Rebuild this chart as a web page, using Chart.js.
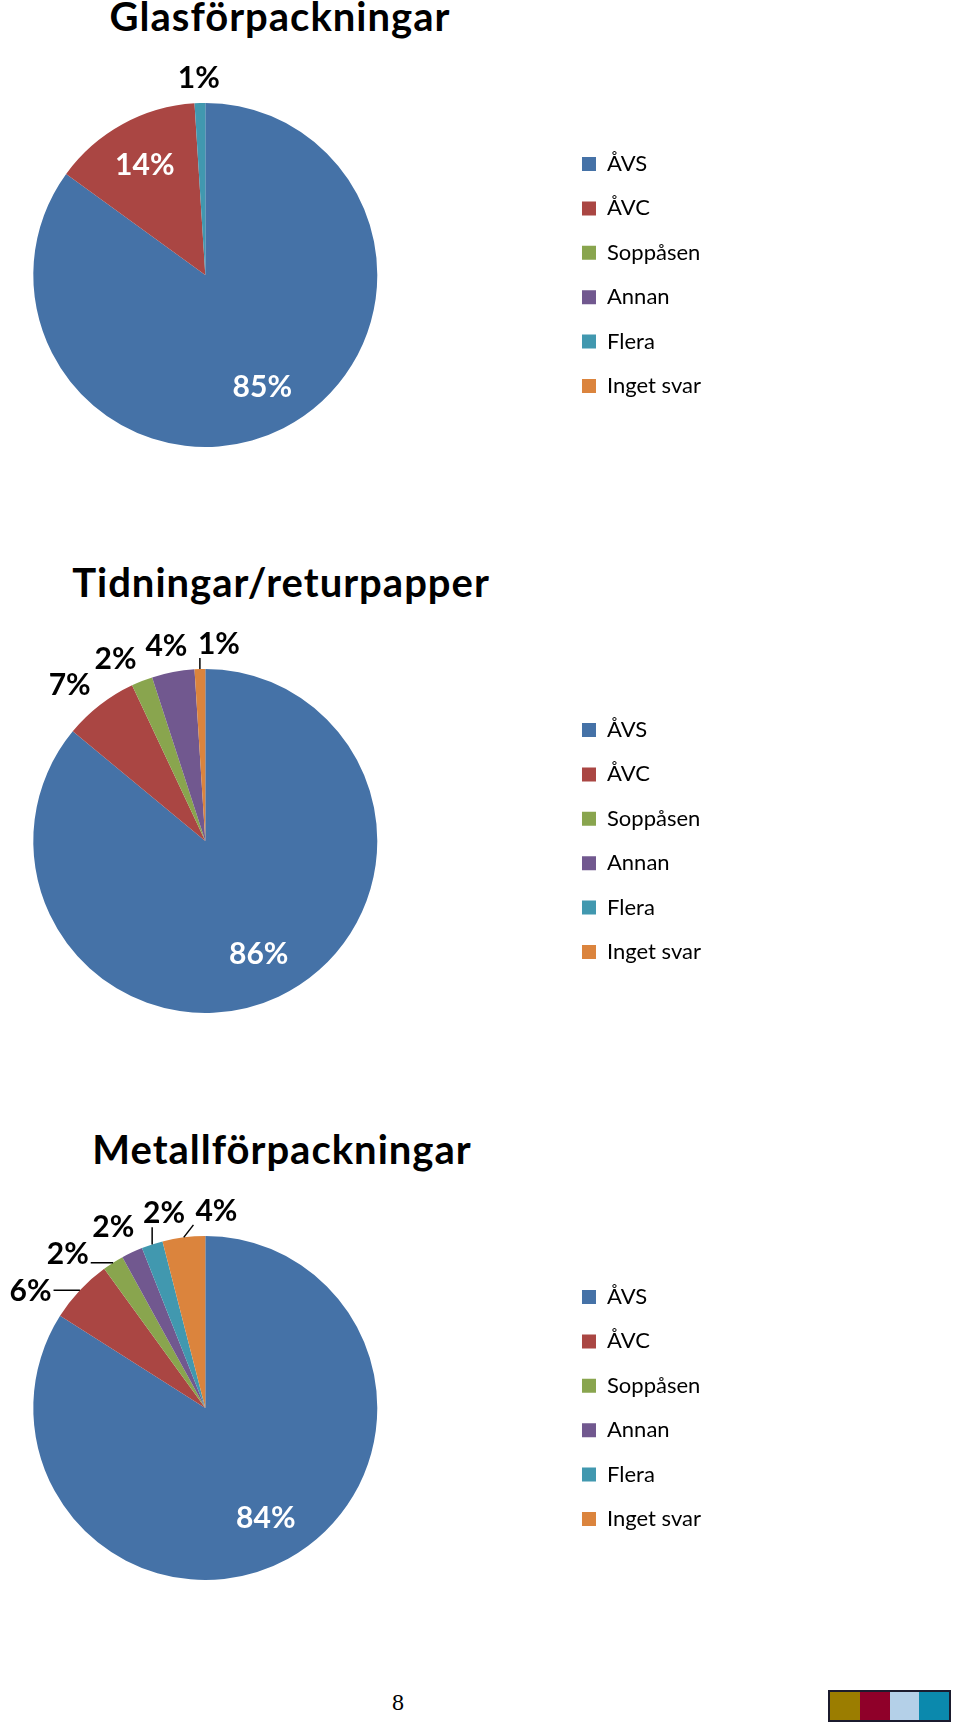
<!DOCTYPE html>
<html lang="sv">
<head>
  <meta charset="utf-8">
  <title>Sortering av förpackningar</title>
  <script src="https://cdn.jsdelivr.net/npm/chart.js"></script>
  <style>
    html, body { margin: 0; padding: 0; background: #fff; }
    body { position: relative; width: 960px; height: 1726px; overflow: hidden; font-family: Lato, sans-serif; }
    .box { position: absolute; }
    .title { position: absolute; transform: translateX(-50%); white-space: nowrap;
             font-weight: bold; font-size: 40px; line-height: 40px; letter-spacing: 1px; color: #000; }
    .pageno { position: absolute; left: 398px; top: 1690px; transform: translateX(-50%);
              font-family: "Liberation Serif", "Times New Roman", serif; font-size: 24px; line-height: 24px; }
    .swatch { position: absolute; left: 828px; top: 1690px; width: 119px; height: 28px;
              border: 2px solid #1b1b2e; display: flex; }
    .swatch div { flex: 1; }
  </style>
</head>
<body>

  <div class="title" style="left:280px;top:-4px">Glasförpackningar</div>
  <div class="box" style="left:-149px;top:23px;width:870px;height:504px"><canvas id="c0"></canvas></div>

  <div class="title" style="left:281px;top:562px">Tidningar/returpapper</div>
  <div class="box" style="left:-149px;top:589px;width:870px;height:504px"><canvas id="c1"></canvas></div>

  <div class="title" style="left:282px;top:1129px">Metallförpackningar</div>
  <div class="box" style="left:-149px;top:1156px;width:870px;height:504px"><canvas id="c2"></canvas></div>

  <div class="pageno">8</div>
  <div class="swatch">
    <div style="background:#9b7d00"></div>
    <div style="background:#8f0029"></div>
    <div style="background:#b4d0e8"></div>
    <div style="background:#0b89ad"></div>
  </div>

  <script>
    // svarsalternativ (samma i alla tre diagram)
    const categories = ['ÅVS', 'ÅVC', 'Soppåsen', 'Annan', 'Flera', 'Inget svar'];
    // andel i procent
    const glasValues = [85, 14, 0, 0, 1, 0];
    const tidningarValues = [86, 7, 2, 4, 0, 1];
    const metallValues = [84, 6, 2, 2, 2, 4];

    const sliceColors = ['#4572a7', '#aa4643', '#89a54e', '#71588f', '#4198af', '#db843d'];

    Chart.defaults.font.family = 'Lato';

    // sprid ut små etiketter så att de inte krockar (vinklar i radianer)
    function spread(items, sep) {
      var groups = items.map(it => [it]);
      var merged = true;
      while (merged) {
        merged = false;
        for (var g = 0; g < groups.length - 1; g++) {
          var a = groups[g], b = groups[g + 1];
          if (b[0].pos - a[a.length - 1].pos < sep) {
            var all = a.concat(b);
            var mean = all.reduce((s, it) => s + it.mid, 0) / all.length;
            all.forEach((it, k) => { it.pos = mean + (k - (all.length - 1) / 2) * sep; });
            groups.splice(g, 2, all);
            merged = true;
            break;
          }
        }
      }
    }

    // procentetiketter: vita inne i stora tårtbitar, svarta utanför för små
    const pctLabels = {
      id: 'pctLabels',
      afterDatasetsDraw(chart) {
        var ctx = chart.ctx;
        var meta = chart.getDatasetMeta(0);
        var vals = chart.data.datasets[0].data;
        var total = vals.reduce((a, b) => a + b, 0);
        var outside = [];
        ctx.save();
        ctx.font = 'bold 30px Lato';
        ctx.textAlign = 'center';
        ctx.textBaseline = 'middle';
        meta.data.forEach((arc, i) => {
          if (!vals[i]) return;
          var p = arc.getProps(['x', 'y', 'startAngle', 'endAngle', 'outerRadius'], true);
          var mid = (p.startAngle + p.endAngle) / 2;
          var txt = Math.round(vals[i] / total * 100) + '%';
          if (vals[i] / total >= 0.1) {
            var rr = p.outerRadius * 0.73;
            ctx.fillStyle = '#fff';
            ctx.fillText(txt, p.x + Math.cos(mid) * rr, p.y + Math.sin(mid) * rr);
          } else {
            outside.push({ txt: txt, mid: mid, pos: mid, p: p });
          }
        });
        spread(outside, 14.5 * Math.PI / 180);
        outside.forEach(it => {
          var p = it.p;
          var dx = Math.cos(it.pos), dy = Math.sin(it.pos);
          var hw = ctx.measureText(it.txt).width / 2, hh = 11;
          var R = p.outerRadius + 14 + 8 * Math.abs(dx);
          var x = p.x + dx * R + dx * hw;
          var y = p.y + dy * R + dy * hh;
          ctx.fillStyle = '#000';
          ctx.fillText(it.txt, x, y);
          if (Math.abs(it.pos - it.mid) > 5 * Math.PI / 180) {
            var ax = p.x + Math.cos(it.mid) * p.outerRadius;
            var ay = p.y + Math.sin(it.mid) * p.outerRadius;
            var bx = Math.min(Math.max(ax, x - hw - 2), x + hw + 2);
            var by = Math.min(Math.max(ay, y - hh - 3), y + hh + 3);
            ctx.strokeStyle = '#000';
            ctx.lineWidth = 1.5;
            ctx.beginPath();
            ctx.moveTo(bx, by);
            ctx.lineTo(ax, ay);
            ctx.stroke();
          }
        });
        ctx.restore();
      }
    };

    function make_pie(id, values) {
      const data = {
        labels: categories,
        datasets: [{
          data: values,
          backgroundColor: sliceColors,
          borderWidth: 0,
          hoverOffset: 0
        }]
      };
      const options = {
        responsive: true,
        maintainAspectRatio: false,
        animation: false,
        layout: { padding: { top: 80, bottom: 80, left: 0, right: 10 } },
        plugins: {
          legend: {
            position: 'right',
            labels: {
              boxWidth: 14,
              boxHeight: 14,
              padding: 22.4,
              color: '#000',
              font: { family: 'Lato', size: 22 }
            }
          },
          tooltip: { enabled: false }
        }
      };
      return new Chart(document.getElementById(id), {
        type: 'pie',
        data: data,
        options: options,
        plugins: [pctLabels]
      });
    }

    make_pie('c0', glasValues);
    make_pie('c1', tidningarValues);
    make_pie('c2', metallValues);
  </script>

</body>
</html>
